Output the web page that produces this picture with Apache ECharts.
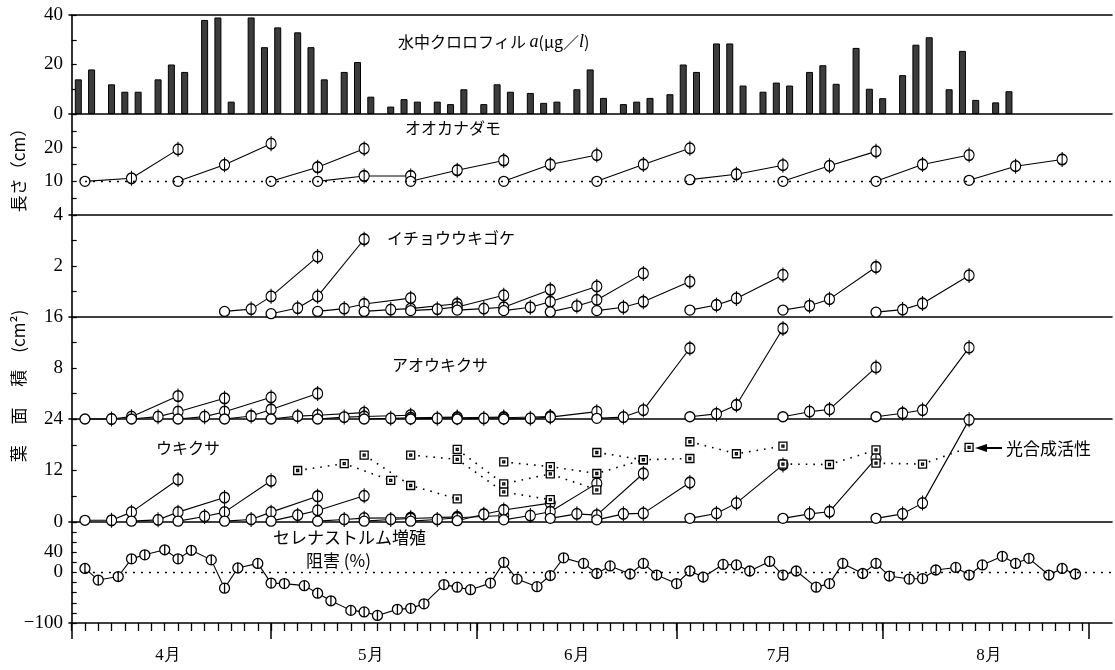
<!DOCTYPE html>
<html><head><meta charset="utf-8">
<script src="https://cdn.jsdelivr.net/npm/echarts@6/dist/echarts.min.js"></script>
<style>html,body{margin:0;padding:0;background:#fff}#c{width:1115px;height:670px}</style>
</head><body><div id="c"></div>
<script>
// ---------- data (x = days since 1 April) ----------
const monthStarts = [0, 30, 61, 91, 122, 153];
const monthNames = ['4月', '5月', '6月', '7月', '8月'];
const monthLabelDays = [14.5, 45, 76, 106.5, 138];

// 水中クロロフィル a (μg/l)
const chlDays = [1,3, 6,8,10, 13,15,17, 20,22,24, 27,29,31, 34,36,38, 41,43,45, 48,50,52, 55,57,59, 62,64,66, 69,71,73, 76,78,80, 83,85,87, 90,92,94, 97,99,101, 104,106,108, 111,113,115, 118,120,122, 125,127,129, 132,134,136, 139,141];
const chlValues = [14,18, 12,9,9, 14,20,17, 38,39,5, 39,27,35, 33,27,14, 17,21,7, 3,6,5, 5,4,10, 4,12,9, 8.5,4.5,5, 10,18,6.5, 4,5,6.5, 8,20,17, 28.5,28.5,11.5, 9,12.7,11.5, 17,19.7,12.2, 26.7,10.2,6.4, 15.7,28,31, 10,25.5,5.7, 4.7,9.2];

// オオカナダモ 長さ (cm): batches started on lenStarts, measured at +0, +7, +14 days
const lenOffsets = [0, 7, 14];
const lenStarts = [2, 16, 30, 37, 51, 65, 79, 93, 107, 121, 135];
const lenValues = [[10,10.9,19.5],[10,14.9,21.2],[10,14.2,19.7],[10,11.6,11.6],[10,13.3,16.2],[10,15.0,17.8],[10,15.0,19.8],[10.5,12.1,14.8],[10,14.6,18.9],[10,15.0,17.8],[10.3,14.5,16.5]];
const lenRef = 10;

// leaf area batches measured at +0, +4, +7, +14 days
const areaOffsets = [0, 4, 7, 14];
const ichoStarts = [23, 30, 37, 44, 51, 58, 65, 72, 79, 93, 107, 121];
const ichoValues = [[0.22,0.31,0.81,2.37],[0.13,0.35,0.81,3.05],[0.22,0.33,0.51,0.74],[0.22,0.29,0.33,0.52],[0.25,0.31,0.39,0.85],[0.27,0.33,0.38,1.07],[0.25,0.38,0.6,1.2],[0.2,0.43,0.67,1.71],[0.25,0.38,0.6,1.39],[0.27,0.47,0.73,1.65],[0.27,0.44,0.7,1.96],[0.19,0.29,0.53,1.63]];
const aoStarts = [2, 9, 16, 23, 30, 37, 44, 51, 58, 65, 79, 93, 107, 121];
const aoValues = [[0,0,0.37,3.6],[0,0.37,1.15,3.25],[0,0.37,1.15,3.4],[0,0.47,1.5,4.0],[0,0.45,0.6,1.0],[0,0.3,0.4,0.6],[0,0.1,0.2,0.3],[0,0.1,0.2,0.3],[0,0.1,0.2,0.4],[0,0.1,0.3,1.15],[0.1,0.3,1.4,11.1],[0.35,0.8,2.2,14.2],[0.35,1.15,1.5,8.1],[0.35,0.9,1.4,11.2]];
const ukiStarts = [2, 9, 16, 23, 30, 37, 44, 51, 58, 65, 72, 79, 93, 107, 121];
const ukiValues = [[0.4,0.4,2.3,9.9],[0.2,0.5,2.3,5.7],[0.2,1.3,2.3,9.6],[0.2,0.6,2.3,6.0],[0.2,1.6,2.7,6.1],[0.2,0.6,0.9,1.0],[0.2,0.6,0.8,1.2],[0.2,0.6,1.0,1.5],[0.3,1.8,2.8,4.4],[0.5,1.5,2.4,9.0],[0.85,1.9,1.6,11.3],[0.5,1.9,2.0,9.2],[0.85,2.0,4.4,13.3],[0.85,1.9,2.4,14.8],[0.85,1.9,4.4,23.8]];

// 光合成活性 (ウキクサ panel), weekly chains
const photoStep = 7;
const photoStarts = [34, 44, 51, 58, 65, 79, 93, 107, 121];
const photoValues = [[12.0,13.6,9.7],[15.6,8.5,5.4],[15.6,14.6,7.0,5.2],[16.9,8.9,11.2,7.5],[14.0,12.9,11.3,14.5],[16.2,14.5,14.8],[18.7,15.9,17.7],[13.5,13.4,16.8],[13.7,13.5,17.4]];

// セレナストルム増殖阻害 (%)
const selDays = [2,4, 7,9,11, 14,16,18, 21,23,25, 28,30,32, 35,37,39, 42,44,46, 49,51,53, 56,58,60, 63,65,67, 70,72,74, 77,79,81, 84,86,88, 91,93,95, 98,100,102, 105,107,109, 112,114,116, 119,121,123, 126,128,130, 133,135,137, 140,142,144, 147,149,151];
const selValues = [8,-15, -8,27,35, 45,27,44, 25,-31,9, 18,-21,-22, -26,-41,-56, -75,-78,-85, -73,-71,-62, -24,-29,-34, -21,20,-13, -28,-6,29, 18,-2,13, -3,18,-5, -22,3,-9, 16,15,3, 22,-5,3, -29,-22,18, -2,18,-7, -13,-12,5, 10,-5,15, 32,18,28, -5,8,-3];
const selRef = 0;

// ---------- chart ----------
const X_MIN = -0.4, X_MAX = 156.5;
const FONT_JP = '"Noto Sans CJK JP", sans-serif';
const PHI = 'path://M5,0L5,14M10,7A5,5,0,1,1,0,7A5,5,0,1,1,10,7Z';
const PHI_S = 'path://M5,0L5,10M10,5A5,5,0,1,1,0,5A5,5,0,1,1,10,5Z';
const SQ = 'path://M0,0L8,0L8,8L0,8ZM3,3L5,3L5,5L3,5Z';

const gridDefs = [
  {top: 15, height: 99},
  {top: 114, height: 101},
  {top: 215, height: 102},
  {top: 317, height: 102},
  {top: 419, height: 103},
  {top: 522, height: 101}
];
const grid = gridDefs.map(g => ({left: 69, right: 3, top: g.top, height: g.height}));

const axisLineStyle = {color: '#000', width: 1.6};
function yAx(gi, min, max, interval, labels) {
  return {
    type: 'value', gridIndex: gi, min, max, interval,
    axisLine: {show: true, lineStyle: axisLineStyle},
    axisTick: {show: true, inside: true, length: 5, lineStyle: {color: '#000', width: 1.2}},
    splitLine: {show: false},
    axisLabel: {
      showMinLabel: true, showMaxLabel: true, margin: 6,
      color: '#000', fontSize: 19, fontFamily: 'Liberation Serif',
      formatter: v => labels.indexOf(v) >= 0 ? String(v).replace('-', '\u2212') : ''
    }
  };
}
function xAx(gi) {
  return {
    type: 'value', gridIndex: gi, min: X_MIN, max: X_MAX,
    axisLine: {show: true, onZero: false, lineStyle: axisLineStyle},
    axisTick: {show: false}, axisLabel: {show: false}, splitLine: {show: false}
  };
}

const minorTicks = [];
for (let m = 0; m < monthStarts.length - 1; m++) {
  for (let d = monthStarts[m]; d < monthStarts[m + 1]; d += 2) minorTicks.push(d);
}

const xAxis = [0,1,2,3,4,5].map(xAx);
xAxis[5].axisTick = {show: true, customValues: minorTicks, length: 8, lineStyle: {color: '#000', width: 1.3}};
xAxis[5].axisLabel = {
  show: true, customValues: monthLabelDays, margin: 24, color: '#000',
  fontSize: 17, fontFamily: 'Liberation Serif',
  formatter: v => monthNames[monthLabelDays.indexOf(v)] || ''
};
// top border of the first panel
xAxis.push(Object.assign(xAx(0), {position: 'top'}));
// long ticks at month starts
xAxis.push({
  type: 'value', gridIndex: 5, min: X_MIN, max: X_MAX, position: 'bottom',
  axisLine: {show: false, onZero: false}, axisLabel: {show: false}, splitLine: {show: false},
  axisTick: {show: true, customValues: monthStarts, length: 16, lineStyle: {color: '#000', width: 1.5}}
});

const yAxis = [
  yAx(0, 0, 40, 10, [0, 20, 40]),
  yAx(1, 0, 30, 5, [10, 20]),
  yAx(2, 0, 4, 1, [2, 4]),
  yAx(3, 0, 16, 4, [8, 16]),
  yAx(4, 0, 24, 6, [0, 12, 24]),
  yAx(5, -100, 100, 20, [-100, 0, 40])
];

const series = [];
series.push({
  type: 'bar', xAxisIndex: 0, yAxisIndex: 0, barWidth: 7,
  data: chlDays.map((d, i) => [d, chlValues[i]]),
  itemStyle: {color: '#3c3c3c', borderColor: '#000', borderWidth: 1},
  silent: true
});

function batchSeries(gi, starts, offsets, values) {
  starts.forEach((s, bi) => {
    series.push({
      type: 'line', xAxisIndex: gi, yAxisIndex: gi, clip: false,
      data: values[bi].map((v, k) => [s + offsets[k], v]),
      symbol: (val, p) => p.dataIndex === 0 ? 'circle' : PHI,
      symbolSize: (val, p) => p.dataIndex === 0 ? 10 : [10, 15],
      lineStyle: {color: '#000', width: 1.1},
      itemStyle: {color: '#fff', borderColor: '#000', borderWidth: 1.3},
      animation: false, silent: true
    });
  });
}
batchSeries(1, lenStarts, lenOffsets, lenValues);
batchSeries(2, ichoStarts, areaOffsets, ichoValues);
batchSeries(3, aoStarts, areaOffsets, aoValues);
batchSeries(4, ukiStarts, areaOffsets, ukiValues);

const dotted = {color: '#000', type: [2, 6], width: 1.3};
// dotted reference line in オオカナダモ panel (initial length 10 cm)
series.push({
  type: 'line', xAxisIndex: 1, yAxisIndex: 1, data: [], silent: true,
  markLine: {silent: true, symbol: 'none', label: {show: false}, lineStyle: dotted,
    data: [[{coord: [lenStarts[0], lenRef]}, {coord: [X_MAX, lenRef]}]]}
});

photoStarts.forEach((s, ci) => {
  series.push({
    type: 'line', xAxisIndex: 4, yAxisIndex: 4, clip: false,
    data: photoValues[ci].map((v, k) => [s + k * photoStep, v]),
    symbol: SQ, symbolSize: 8,
    lineStyle: {color: '#000', width: 1.6, type: [1.6, 6]},
    itemStyle: {color: '#fff', borderColor: '#000', borderWidth: 1.3},
    animation: false, silent: true
  });
});

series.push({
  type: 'line', xAxisIndex: 5, yAxisIndex: 5, clip: false,
  data: selDays.map((d, i) => [d, selValues[i]]),
  symbol: PHI_S, symbolSize: 10,
  lineStyle: {color: '#000', width: 1.1},
  itemStyle: {color: '#fff', borderColor: '#000', borderWidth: 1.3},
  animation: false, silent: true,
  markLine: {silent: true, symbol: 'none', label: {show: false}, lineStyle: dotted,
    data: [[{coord: [selDays[0], selRef]}, {coord: [X_MAX, selRef]}]]}
});

function txt(x, y, text, size) {
  return {
    type: 'text', x, y, z: 100,
    style: {text, fontSize: size || 16, fontFamily: FONT_JP, fill: '#000',
      align: 'left', verticalAlign: 'middle'}
  };
}

const graphic = [
  {type: 'text', x: 398, y: 42, z: 100, style: {
    text: '水中クロロフィル {i|a}(μg／{i|l})', fontSize: 16, fontFamily: FONT_JP, fill: '#000',
    align: 'left', verticalAlign: 'middle',
    rich: {i: {fontStyle: 'italic', fontFamily: 'Liberation Serif', fontSize: 18, fill: '#000'}}
  }},
  txt(405, 128, 'オオカナダモ'),
  txt(387, 238, 'イチョウウキゴケ'),
  txt(392, 365, 'アオウキクサ'),
  txt(156, 448, 'ウキクサ'),
  txt(273, 538, 'セレナストルム増殖', 17),
  txt(306, 561, '阻害 (%)', 17),
  txt(1006, 449, '光合成活性', 17),
  {type: 'text', x: 19, y: 166, rotation: Math.PI / 2, z: 100, style: {
    text: '長さ（cm）', fontSize: 17, fontFamily: FONT_JP, fill: '#000', align: 'center', verticalAlign: 'middle'}},
  {type: 'text', x: 19, y: 386, rotation: Math.PI / 2, z: 100, style: {
    text: '葉　 面　 積　(cm²)', fontSize: 17, fontFamily: FONT_JP, fill: '#000', align: 'center', verticalAlign: 'middle'}},
  {type: 'line', z: 100, shape: {x1: 984, y1: 448, x2: 1002, y2: 448}, style: {stroke: '#000', lineWidth: 2}},
  {type: 'polygon', z: 100, shape: {points: [[975, 448], [987, 444], [987, 452]]}, style: {fill: '#000'}}
];

const chart = echarts.init(document.getElementById('c'), null, {renderer: 'canvas'});
chart.setOption({
  animation: false,
  backgroundColor: '#fff',
  grid, xAxis, yAxis, series, graphic
});
</script>
</body></html>
